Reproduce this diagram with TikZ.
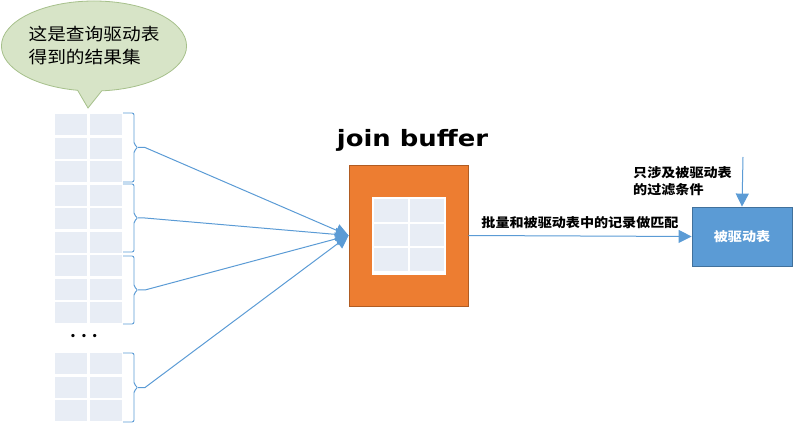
\documentclass[tikz,border=0pt]{standalone}
\usepackage{fontspec}
\setmainfont{Carlito}
\newfontfamily\cjk[FakeStretch=1.1]{Noto Sans CJK SC}
\newfontfamily\titlefont[FakeStretch=1.15]{DejaVu Sans}
\usetikzlibrary{positioning,shapes.callouts,arrows.meta}
\definecolor{cellfill}{HTML}{E8EDF5}
\definecolor{bufor}{HTML}{ED7D31}
\definecolor{bufdark}{HTML}{B15C22}
\definecolor{tblue}{HTML}{5B9BD5}
\definecolor{tbdark}{HTML}{41719C}
\definecolor{bubfill}{HTML}{D7E4C7}
\definecolor{bubline}{HTML}{A6C08B}
\tikzset{
  cell/.style={fill=cellfill, draw=white, line width=2.4pt},
  brace/.style={draw=tblue, line width=0.9pt, rounded corners=2pt},
  feed/.style={draw=tblue, line width=1pt, -{Triangle[width=13pt,length=13pt]}},
  note/.style={font=\cjk\bfseries\fontsize{12.8}{17}\selectfont, inner sep=1pt}
}
\begin{document}
\begin{tikzpicture}[x=1pt, y=-1pt]
\useasboundingbox (0,0) rectangle (806,446);
% speech bubble
\node[ellipse callout, callout absolute pointer={(88,108)}, fill=bubfill, draw=bubline, line width=0.8pt,
  minimum width=176pt, minimum height=90pt, align=left, inner sep=0pt,
  font=\cjk\fontsize{17}{23}\selectfont] (bub) at (94,46) {这是查询驱动表\\得到的结果集};
% driving table rows
\foreach \y in {113,136.5,160,183.5,207,230.5,254,277.5,301,352,375.5,399} {
  \draw[cell] (54,\y) rectangle ++(34.5,23.5);
  \draw[cell] (88.5,\y) rectangle ++(34.5,23.5);
}
\node[font=\bfseries\fontsize{22}{22}\selectfont] (dots) at (84,336) {.\hspace{5pt}.\hspace{5pt}.};
% brackets next to each group of rows
\foreach \t/\b/\n in {113/182/1, 184/252/2, 256/324/3, 353/422/4} {
  \draw[brace] (123,\t) -- (134,\t) -- (134,{(\t+\b)/2-3}) -- (138,{(\t+\b)/2})
    -- (134,{(\t+\b)/2+3}) -- (134,\b) -- (123,\b);
  \coordinate (b\n) at (138,{(\t+\b)/2});
}
% join buffer
\node[fill=bufor, draw=bufdark, line width=0.8pt, minimum width=119pt, minimum height=141pt, inner sep=0pt] (jb) at (408.5,235.5) {};
\node[font=\titlefont\bfseries\fontsize{22.5}{22.5}\selectfont, inner sep=0pt, anchor=base] (jbt) at (412.5,147) {join buffer};
\fill[white] (372,197) rectangle (446,275);
\foreach \y in {198.5,223,247.5} {
  \draw[cell, line width=2pt] (373,\y) rectangle ++(36,24.5);
  \draw[cell, line width=2pt] (409,\y) rectangle ++(36,24.5);
}
% driven table
\node[fill=tblue, draw=tbdark, line width=0.8pt, minimum width=100pt, minimum height=59pt, text=white,
  font=\cjk\bfseries\fontsize{12.8}{17}\selectfont] (dt) at (742,236.5) {被驱动表};
\node[note, align=left, anchor=north west] (flt) at (632,165) {只涉及被驱动表\\的过滤条件};
\coordinate (ftop) at (743,157);
% connectors
\foreach \b in {b1,b2,b3,b4}
  \draw[feed] (\b) -- ++(7,0) -- (jb.west);
\draw[feed] (jb.east) -- node[note, above=6pt] (match) {批量和被驱动表中的记录做匹配} (dt.west);
\draw[feed] (ftop) -- (dt.north);
\end{tikzpicture}
\end{document}
